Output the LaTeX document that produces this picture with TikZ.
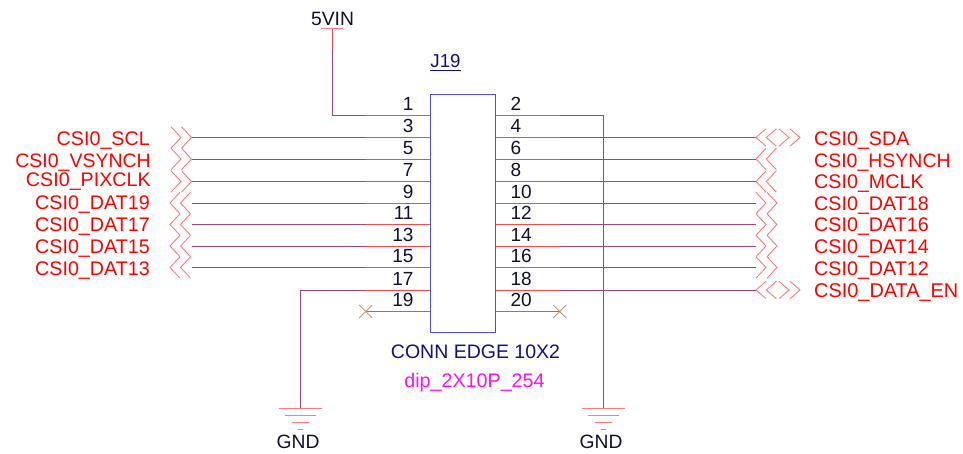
\documentclass[tikz,border=0pt]{standalone}
\usepackage{fontspec}
\setmainfont{Liberation Sans}
\definecolor{wirec}{HTML}{A0447A}
\definecolor{pinc}{HTML}{F24C4C}
\definecolor{symc}{HTML}{FF7A7A}
\definecolor{boxc}{HTML}{4C4CF0}
\definecolor{navyc}{HTML}{101080}
\definecolor{numc}{HTML}{101028}
\definecolor{crossc}{HTML}{C09878}
\definecolor{footc}{HTML}{FF10F0}
\tikzset{
 wire/.style={draw=wirec,line width=1pt},
 pinline/.style={draw=pinc,line width=1pt},
 sym/.style={draw=symc,line width=0.9pt},
 crossmark/.style={draw=crossc,line width=0.8pt},
 lab/.style={inner sep=0pt,text=red,font=\fontsize{19.7}{20}\selectfont},
 labl/.style={lab,anchor=base east},
 labr/.style={lab,anchor=base west},
 labn/.style={font=\fontsize{19.5}{20}\selectfont},
 num/.style={inner sep=0pt,text=numc,font=\fontsize{19}{20}\selectfont},
 numl/.style={num,anchor=base east},
 numr/.style={num,anchor=base west},
 blk/.style={inner sep=0pt,text=numc,font=\fontsize{19.3}{20}\selectfont,anchor=base},
}
\newcommand{\chevL}[3]{% tips to the left, tip x, row y, half height
 \draw[sym] (#1+10,#2-#3) -- (#1,#2) -- (#1+10,#2+#3);}
\newcommand{\chevR}[3]{% tips to the right
 \draw[sym] (#1-10,#2-#3) -- (#1,#2) -- (#1-10,#2+#3);}
\begin{document}
\begin{tikzpicture}[x=1pt,y=-1pt]
\useasboundingbox[fill=white] (0,0) rectangle (963,453);
% connector body
\node[draw=boxc,line width=1pt,outer sep=0pt,minimum width=65.5pt,minimum height=238.3pt,inner sep=0pt,anchor=north west] (J) at (430,94.5) {};
% pin ends
\foreach \n/\y in {1/115,3/137.5,5/159,7/181.5,9/203,11/224.5,13/246,15/267.5,17/290,19/311.5}{
  \coordinate (p\n) at (430,\y);
  \coordinate (e\n) at (365.7,\y);
  \node[numl] (n\n) at (413.7,\y-4.7) {\n};
}
\foreach \n/\y in {2/115,4/137.5,6/159,8/181.5,10/203,12/224.5,14/246,16/267.5,18/290,20/311.5}{
  \coordinate (p\n) at (495.5,\y);
  \coordinate (e\n) at (559.8,\y);
  \node[numr] (n\n) at (510.3,\y-4.7) {\n};
}
% off-page ends: wires stop where the pins begin
\foreach \n/\y in {3/137.5,5/159,7/181.5,9/203,11/224.5,13/246,15/267.5}{
  \coordinate (o\n) at (191.5,\y);
  \draw[wire] (o\n) -- (e\n);
}
\foreach \n/\y in {4/137.5,6/159,8/181.5,10/203,12/224.5,14/246,16/267.5,18/290}{
  \coordinate (o\n) at (755.5,\y);
  \draw[wire] (o\n) -- (e\n);
}
% power rails
\coordinate (vin) at (332,28.5);
\coordinate (vinb) at (332,50);
\coordinate (gl) at (300,408.5);
\coordinate (gr) at (603,408.5);
\draw[wire] (vinb) |- (e1);
\draw[wire] (gl) |- (e17);
\draw[wire] (gr) |- (e2);
% pins
\foreach \n in {1,...,20}{ \draw[pinline] (p\n) -- (e\n); }
% 5VIN
\draw[sym,line width=1pt] (321,28.5) -- (343,28.5);
\draw[pinline] (vin) -- (vinb);
\node[blk] (vinlab) at (332.5,25) {5VIN};
% no-connects
\foreach \n in {19,20}{
  \draw[crossmark] ([shift={(-6.5,-6.5)}]e\n) -- ([shift={(6.5,6.5)}]e\n);
  \draw[crossmark] ([shift={(-6.5,6.5)}]e\n) -- ([shift={(6.5,-6.5)}]e\n);
}
% grounds
\foreach \c in {gl,gr}{
  \draw[sym] ([xshift=-21.5pt]\c) -- ([xshift=21.5pt]\c);
  \draw[sym] ([shift={(-15.5,7)}]\c) -- ([shift={(15.5,7)}]\c);
  \draw[sym] ([shift={(-8.5,14)}]\c) -- ([shift={(8.5,14)}]\c);
  \draw[sym] ([shift={(-2.5,20.5)}]\c) -- ([shift={(2.5,20.5)}]\c);
}
\node[blk] (GNDL) at (298,448) {GND};
\node[blk] (GNDR) at (601,448) {GND};
% component texts
\node[inner sep=0pt,anchor=base,text=navyc,font=\fontsize{18.7}{20}\selectfont] (ref) at (445.5,67) {J19};
\draw[draw=navyc,line width=1pt] (430,70.7) -- (461,70.7);
\node[inner sep=0pt,anchor=base,text=navyc,font=\fontsize{19.5}{20}\selectfont] (val) at (475.5,358.5) {CONN EDGE 10X2};
\node[inner sep=0pt,anchor=base,text=footc,font=\fontsize{19.7}{20}\selectfont] (foot) at (474.5,387.5) {dip\_2X10P\_254};
% left off-page
\foreach \y in {137.5,159,181.5}{ \chevR{181}{\y}{10.7} \chevR{191.5}{\y}{10.7} }
\foreach \y in {203,224.5,246,267.5}{ \chevL{170}{\y}{10.7} \chevL{180.5}{\y}{10.7} }
% right off-page
\foreach \y in {137.5,290}{ \chevL{756}{\y}{8.7} \chevL{766.3}{\y}{8.7} \chevR{789}{\y}{8.7} \chevR{800}{\y}{8.7} }
\foreach \y in {159,181.5}{ \chevL{756}{\y}{10.7} \chevL{766.3}{\y}{10.7} }
\foreach \y in {203,224.5,246,267.5}{ \chevR{766}{\y}{10.7} \chevR{777}{\y}{10.7} }
% labels
\node[labl] (l3) at (150,145) {CSI0\_SCL};
\node[labl,labn] (l5) at (151,167) {CSI0\_VSYNCH};
\node[labl] (l7) at (151,186) {CSI0\_PIXCLK};
\node[labl] (l9) at (150,209.5) {CSI0\_DAT19};
\node[labl] (l11) at (150,231) {CSI0\_DAT17};
\node[labl] (l13) at (150,253) {CSI0\_DAT15};
\node[labl] (l15) at (150,275) {CSI0\_DAT13};
\node[labr] (r4) at (814,145) {CSI0\_SDA};
\node[labr,labn] (r6) at (814,167) {CSI0\_HSYNCH};
\node[labr] (r8) at (814,188) {CSI0\_MCLK};
\node[labr] (r10) at (814,210) {CSI0\_DAT18};
\node[labr] (r12) at (814,231.5) {CSI0\_DAT16};
\node[labr] (r14) at (814,253) {CSI0\_DAT14};
\node[labr] (r16) at (814,275) {CSI0\_DAT12};
\node[labr,font=\fontsize{19.9}{20}\selectfont] (r18) at (814,297) {CSI0\_DATA\_EN};
\end{tikzpicture}
\end{document}
